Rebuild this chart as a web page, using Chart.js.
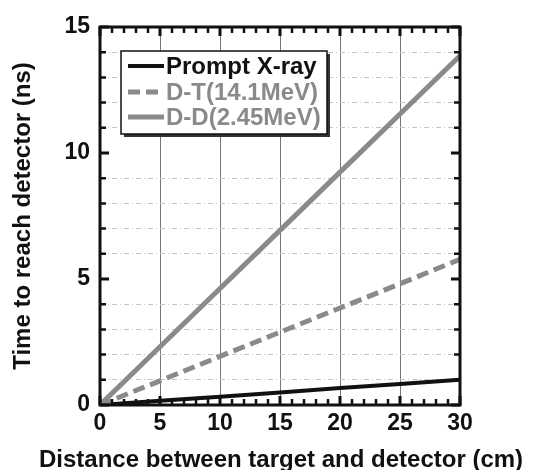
<!DOCTYPE html>
<html>
<head>
<meta charset="utf-8">
<script src="https://cdn.jsdelivr.net/npm/chart.js@4"></script>
<style>
  html, body { margin: 0; padding: 0; background: #fff; }
  #wrap { width: 551px; height: 470px; }
</style>
</head>
<body>
<div id="wrap"><canvas id="tofChart" width="551" height="470"></canvas></div>
<script>
// distances (cm) and arrival times (ns)
const distances = [0, 5, 10, 15, 20, 25, 30];
const xrayTimes = [0, 0.17, 0.33, 0.50, 0.67, 0.83, 1.00];
const dtTimes = [0, 0.96, 1.93, 2.89, 3.85, 4.81, 5.78];
const ddTimes = [0, 2.31, 4.62, 6.93, 9.24, 11.55, 13.86];
const seriesLabels = ['Prompt X-ray', 'D-T(14.1MeV)', 'D-D(2.45MeV)'];
const xTickLabels = [0, 5, 10, 15, 20, 25, 30];
const yTickLabels = [0, 5, 10, 15];
const xTitle = 'Distance between target and detector (cm)';

const FONT = '"Liberation Sans", Arial, Helvetica, sans-serif';
const GRAY = '#8a8a8a';

function toPoints(ys) {
  return distances.map(function (d, i) { return { x: d, y: ys[i] }; });
}

// frame + inward tick marks on all four sides, x title (chart.js squeezes it to the axis width)
const framePlugin = {
  id: 'frame',
  afterDraw: function (chart) {
    const ctx = chart.ctx;
    const a = chart.chartArea;
    const xs = chart.scales.x, ys = chart.scales.y;
    ctx.save();
    ctx.strokeStyle = '#111';
    for (let v = xs.min; v <= xs.max; v++) {
      const px = xs.getPixelForValue(v);
      const major = v % 5 === 0;
      const len = major ? 9 : 6;
      ctx.lineWidth = major ? 3 : 2.5;
      ctx.beginPath();
      ctx.moveTo(px, a.bottom); ctx.lineTo(px, a.bottom - len);
      ctx.moveTo(px, a.top); ctx.lineTo(px, a.top + len);
      ctx.stroke();
    }
    for (let v = ys.min; v <= ys.max; v++) {
      const py = ys.getPixelForValue(v);
      const major = v % 5 === 0;
      const len = major ? 9 : 6;
      ctx.lineWidth = major ? 3 : 2.5;
      ctx.beginPath();
      ctx.moveTo(a.left, py); ctx.lineTo(a.left + len, py);
      ctx.moveTo(a.right, py); ctx.lineTo(a.right - len, py);
      ctx.stroke();
    }
    ctx.lineWidth = 3;
    ctx.strokeRect(a.left, a.top, a.right - a.left, a.bottom - a.top);

    ctx.fillStyle = '#111';
    ctx.font = 'bold 24px ' + FONT;
    ctx.textAlign = 'center';
    ctx.textBaseline = 'alphabetic';
    ctx.fillText(xTitle, 281, 467);
    ctx.restore();
  }
};

// boxed legend inside the plot, upper left, with drop shadow
const boxLegendPlugin = {
  id: 'boxLegend',
  afterDraw: function (chart) {
    const ctx = chart.ctx;
    const bx = 121, by = 51, bw = 206, bh = 83;
    ctx.save();
    ctx.fillStyle = '#333';
    ctx.fillRect(bx + 3, by + 3, bw, bh);
    ctx.fillStyle = '#fff';
    ctx.fillRect(bx, by, bw, bh);
    ctx.strokeStyle = '#111';
    ctx.lineWidth = 1.5;
    ctx.strokeRect(bx, by, bw, bh);

    const rows = [66, 92, 117];
    chart.data.datasets.forEach(function (ds, i) {
      const y = rows[i];
      ctx.strokeStyle = ds.borderColor;
      ctx.lineWidth = ds.borderWidth;
      ctx.setLineDash(ds.borderDash || []);
      ctx.beginPath();
      ctx.moveTo(128, y); ctx.lineTo(164, y);
      ctx.stroke();
      ctx.setLineDash([]);
      ctx.fillStyle = ds.borderColor;
      ctx.font = 'bold 24px ' + FONT;
      ctx.textBaseline = 'middle';
      ctx.textAlign = 'left';
      ctx.fillText(ds.label, 166, y + 1);
    });
    ctx.restore();
  }
};

new Chart(document.getElementById('tofChart').getContext('2d'), {
  type: 'line',
  data: {
    datasets: [{
      label: seriesLabels[0],
      data: toPoints(xrayTimes),
      borderColor: '#111',
      borderWidth: 4,
      order: 3
    }, {
      label: seriesLabels[1],
      data: toPoints(dtTimes),
      borderColor: GRAY,
      borderWidth: 5,
      borderDash: [12, 6],
      order: 2
    }, {
      label: seriesLabels[2],
      data: toPoints(ddTimes),
      borderColor: GRAY,
      borderWidth: 5,
      order: 1
    }]
  },
  options: {
    responsive: false,
    animation: false,
    devicePixelRatio: 1,
    layout: {
      padding: { top: 27, right: 91, bottom: 0, left: 0 }
    },
    elements: {
      point: { radius: 0 },
      line: { tension: 0 }
    },
    plugins: {
      legend: { display: false },
      tooltip: { enabled: false }
    },
    scales: {
      x: {
        type: 'linear',
        min: 0,
        max: 30,
        afterFit: function (scale) { scale.height = 65; },
        ticks: {
          stepSize: 5,
          padding: 5,
          color: '#111',
          font: { family: FONT, size: 23, weight: 'bold' },
          callback: function (v) { return xTickLabels.indexOf(v) >= 0 ? String(v) : ''; }
        },
        grid: {
          drawTicks: false,
          color: function (c) {
            const v = c.tick ? c.tick.value : 0;
            return (v === 0 || v === 30) ? 'rgba(0,0,0,0)' : '#777';
          },
          lineWidth: 1
        },
        border: { display: false },
        title: { display: false }
      },
      y: {
        type: 'linear',
        min: 0,
        max: 15,
        afterFit: function (scale) { scale.width = 100; },
        ticks: {
          stepSize: 1,
          autoSkip: false,
          padding: 10,
          color: '#111',
          font: { family: FONT, size: 23, weight: 'bold' },
          callback: function (v) { return yTickLabels.indexOf(v) >= 0 ? String(v) : ''; }
        },
        grid: {
          drawTicks: false,
          color: function (c) {
            const v = c.tick ? c.tick.value : 0;
            return v % 5 === 0 ? 'rgba(0,0,0,0)' : '#c4c4c4';
          },
          lineWidth: 1
        },
        border: { display: false, dash: [5, 3, 1, 3] },
        title: {
          display: true,
          text: 'Time to reach detector (ns)',
          color: '#111',
          font: { family: FONT, size: 24, weight: 'bold', lineHeight: 1 },
          padding: { top: 11, bottom: 0 }
        }
      }
    }
  },
  plugins: [framePlugin, boxLegendPlugin]
});
</script>
</body>
</html>
